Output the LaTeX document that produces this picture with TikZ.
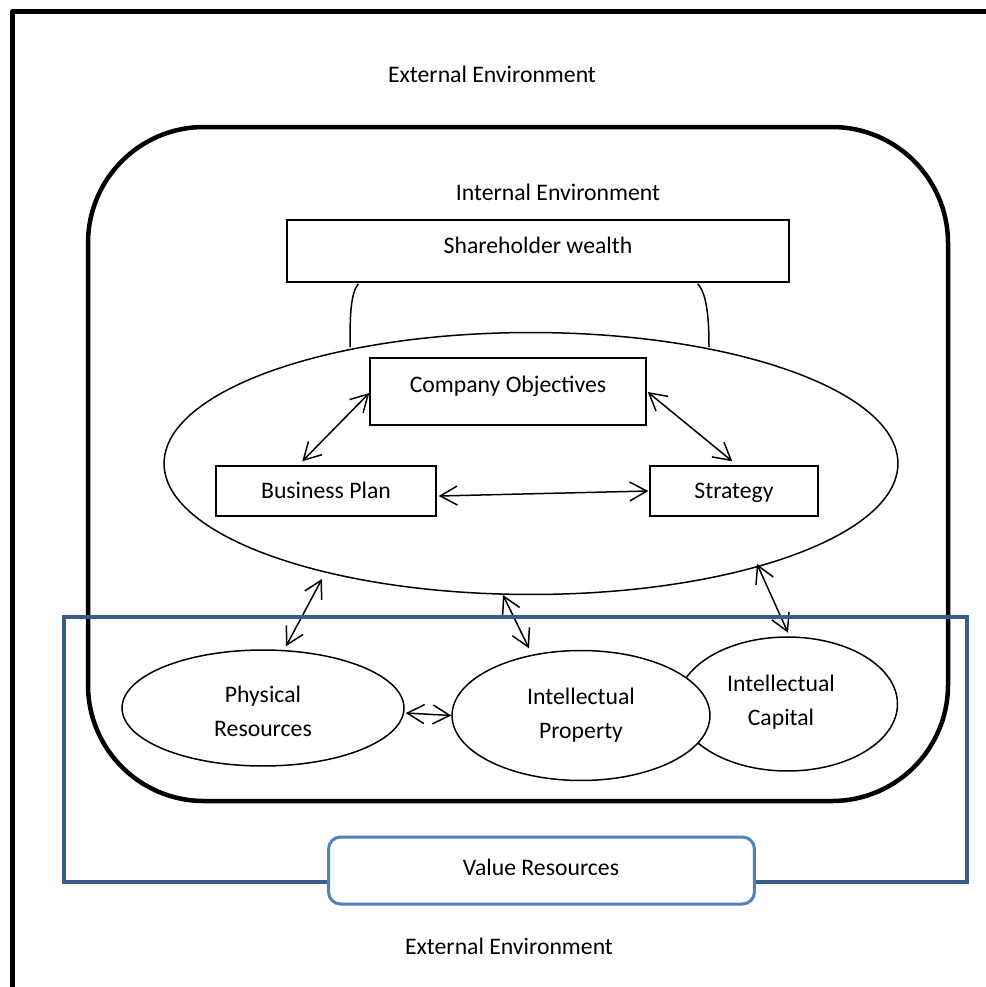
\documentclass[tikz,border=0pt]{standalone}
\usepackage{fontspec}
\setmainfont{Carlito}
\usetikzlibrary{arrows.meta,calc,shapes.geometric}
\definecolor{frameblue}{RGB}{56,93,138}
\definecolor{tagblue}{RGB}{79,129,189}

\begin{document}
\begin{tikzpicture}[x=0.02cm,y=-0.02cm,
  every node/.style={font=\fontsize{13.5}{19.3}\selectfont, inner sep=0pt},
  thinline/.style={line width=0.85pt},
  box/.style={draw, thinline, fill=white, rectangle},
  oval/.style={draw, thinline, fill=white, ellipse},
  oneline/.style={text height=12pt, text depth=3pt},
  twoline/.style={align=center},
  tip/.tip={Straight Barb[length=3.4mm,width=3.8mm]},
  link/.style={thinline, tip-tip},
]
\useasboundingbox (0,0) rectangle (986,987);
\fill[white] (0,0) rectangle (986,987);

% outer frame (external environment)
\draw[line width=0.1cm, line join=round] (995,11.5) -- (12.5,11.5) -- (12.5,995);

% internal environment
\draw[line width=0.09cm, rounded corners=2.32cm] (88,127) rectangle (948,801);

\node (exttop) at (492,74) {External Environment};
\node (inttxt) at (558,192) {Internal Environment};
\node (extbot) at (509,946) {External Environment};

% shareholder wealth and its supports
\node[box, minimum width=10.04cm, minimum height=1.24cm] (sw) at (538,251) {};
\node[oneline] (swtxt) at (538,246) {Shareholder wealth};

\coordinate (arcLb) at (350,347);
\coordinate (arcRb) at (709,347);
\draw[thinline] ($(sw.south west)+(72,1)$) .. controls +(-8,10) and +(0,-30) .. (arcLb);
\draw[thinline] ($(sw.south east)+(-92,1)$) .. controls +(9,10) and +(0,-30) .. (arcRb);

% company ellipse
\node[oval, minimum width=14.68cm, minimum height=5.24cm] (firm) at (531,463.5) {};

\node[box, minimum width=5.52cm, minimum height=1.34cm] (co) at (508,391.5) {};
\node[oneline] (cotxt) at (508,385) {Company Objectives};
\node[box, oneline, minimum width=4.4cm, minimum height=1cm] (bp) at (326,491) {Business Plan};
\node[box, oneline, minimum width=3.36cm, minimum height=1cm] (st) at (734,491) {Strategy};

\draw[link] ($(co.west)+(0,1.5)$) -- ($(bp.north west)+(87,-4)$);
\draw[link] ($(co.east)+(1,0.5)$) -- ($(st.north west)+(83,-4)$);
\draw[link] ($(bp.east)+(2,5)$) -- ($(st.west)+(-1,0)$);

% resources
\node[oval, minimum width=4.4cm, minimum height=2.68cm] (ic) at (787.5,704) {};
\node[twoline] (ictxt) at (781,702.5) {Intellectual\\Capital};
\node[oval, minimum width=5.16cm, minimum height=2.6cm] (ip) at (581,715.5) {};
\node[twoline] (iptxt) at (581,715) {Intellectual\\Property};
\node[oval, minimum width=5.64cm, minimum height=2.32cm] (pr) at (263,708) {};
\node[twoline] (prtxt) at (263,711) {Physical\\Resources};

\coordinate (fA) at (322,579);
\coordinate (fB) at (503,595);
\coordinate (fC) at (757,564);
\draw[link] (fA) -- ($(pr.north)+(23,-3)$);
\draw[link] (fB) -- ($(ip.north)+(-52,-1.5)$);
\draw[link] (fC) -- ($(ic.north)+(0.5,-3.5)$);
\draw[link] ($(pr.east)+(1,5)$) -- ($(ip.west)+(0,0)$);

% value resources frame
\draw[frameblue, line width=0.08cm] (64,617) rectangle (967,882);
\node[draw=tagblue, line width=0.06cm, fill=white, rounded corners=0.24cm,
      minimum width=8.52cm, minimum height=1.34cm] (vr) at (541.5,870.5) {};
\node[oneline] (vrtxt) at (541,868) {Value Resources};
\end{tikzpicture}
\end{document}
